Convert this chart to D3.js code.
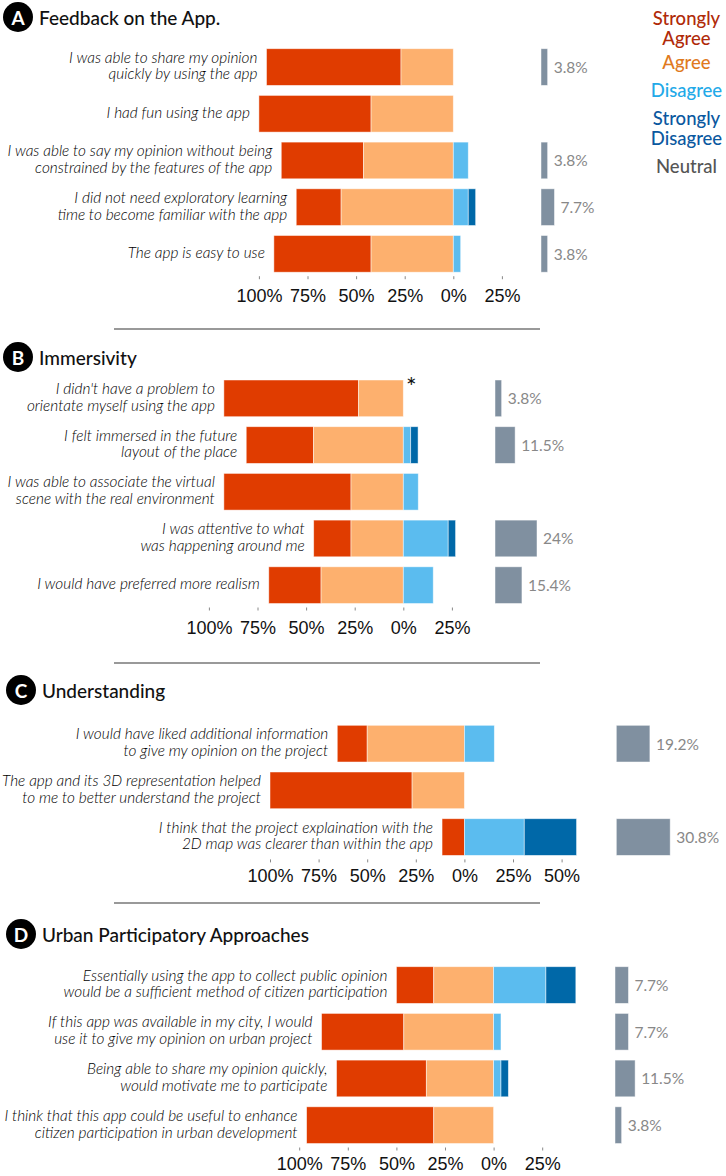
<!DOCTYPE html>
<html lang="en">
<head>
<meta charset="UTF-8">
<title>Likert survey results</title>
<style>
  body { margin: 0; background: #fff; }
  svg { display: block; font-family: "Lato", "Open Sans", sans-serif; }
  .q { font-style: italic; font-weight: 300; font-size: 15.4px; fill: #000; }
  .title { font-size: 19px; font-weight: 500; fill: #111; }
  .tick text { font-size: 18px; fill: #111; }
  .tick line { stroke: #888; }
  .nlab { font-size: 15.5px; fill: #888; }
  .legend { font-size: 18.5px; font-weight: 500; text-anchor: middle; }
</style>
</head>
<body>
<div id="chart"></div>
<script src="https://d3js.org/d3.v7.min.js"></script>
<script>
// levels and colours
const levels = ["Strongly Agree", "Agree", "Disagree", "Strongly Disagree", "Neutral"];
const barColors = ["#e03c00", "#fdb06e", "#5bbcef", "#0068a8", "#8090a0"];
const legendColors = ["#b02a08", "#e07a1e", "#22a9e8", "#0a58a0", "#555555"];

// A. Feedback on the App.
const questionsA = [
  "I was able to share my opinion\nquickly by using the app",
  "I had fun using the app",
  "I was able to say my opinion without being\nconstrained by the features of the app",
  "I did not need exploratory learning\ntime to become familiar with the app",
  "The app is easy to use"
];
const strongAgreeA = [69.2, 57.7, 42.3, 23.1, 50.0];
const agreeA       = [26.9, 42.3, 46.2, 57.7, 42.3];
const disagreeA    = [0, 0, 7.7, 7.7, 3.8];
const strongDisA   = [0, 0, 0, 3.8, 0];
const neutralA     = [3.8, 0, 3.8, 7.7, 3.8];

// B. Immersivity
const questionsB = [
  "I didn't have a problem to\norientate myself using the app",
  "I felt immersed in the future\nlayout of the place",
  "I was able to associate the virtual\nscene with the real environment",
  "I was attentive to what\nwas happening around me",
  "I would have preferred more realism"
];
const strongAgreeB = [69.2, 34.6, 65.4, 19.2, 26.9];
const agreeB       = [23.1, 46.2, 26.9, 26.9, 42.3];
const disagreeB    = [0, 3.8, 7.7, 23.1, 15.4];
const strongDisB   = [0, 3.8, 0, 3.8, 0];
const neutralB     = [3.8, 11.5, 0, 24, 15.4];

// C. Understanding
const questionsC = [
  "I would have liked additional information\nto give my opinion on the project",
  "The app and its 3D representation helped\nto me to better understand the project",
  "I think that the project explaination with the\n2D map was clearer than within the app"
];
const strongAgreeC = [15.4, 73.1, 11.5];
const agreeC       = [50.0, 26.9, 0];
const disagreeC    = [15.4, 0, 30.8];
const strongDisC   = [0, 0, 26.9];
const neutralC     = [19.2, 0, 30.8];

// D. Urban Participatory Approaches
const questionsD = [
  "Essentially using the app to collect public opinion\nwould be a sufficient method of citizen participation",
  "If this app was available in my city, I would\nuse it to give my opinion on urban project",
  "Being able to share my opinion quickly,\nwould motivate me to participate",
  "I think that this app could be useful to enhance\ncitizen participation in urban development"
];
const strongAgreeD = [19.2, 42.3, 46.2, 65.4];
const agreeD       = [30.8, 46.2, 34.6, 30.8];
const disagreeD    = [26.9, 3.8, 3.8, 0];
const strongDisD   = [15.4, 0, 3.8, 0];
const neutralD     = [7.7, 7.7, 11.5, 3.8];

const ticksShort = [-100, -75, -50, -25, 0, 25];
const ticksLong  = [-100, -75, -50, -25, 0, 25, 50];

const W = 726, H = 1176;
const step = 46.7, pad = 0.214;
const pxPerPct = 1.944, neutralPxPerPct = 1.75;

const panels = [
  { letter: "A", title: "Feedback on the App.", q: questionsA,
    vals: [strongAgreeA, agreeA, disagreeA, strongDisA, neutralA],
    ticks: ticksShort, zero: 453.3, neutralX: 541, titleY: 17, circleX: 18, barTop: 48.7, tickPad: 10 },
  { letter: "B", title: "Immersivity", q: questionsB,
    vals: [strongAgreeB, agreeB, disagreeB, strongDisB, neutralB],
    ticks: ticksShort, zero: 403.3, neutralX: 495, titleY: 357, circleX: 18, barTop: 380, star: 0, tickPad: 11 },
  { letter: "C", title: "Understanding", q: questionsC,
    vals: [strongAgreeC, agreeC, disagreeC, strongDisC, neutralC],
    ticks: ticksLong, zero: 464.4, neutralX: 616.3, titleY: 690, circleX: 21, barTop: 725.3, tickPad: 7 },
  { letter: "D", title: "Urban Participatory Approaches", q: questionsD,
    vals: [strongAgreeD, agreeD, disagreeD, strongDisD, neutralD],
    ticks: ticksShort, zero: 493.6, neutralX: 615, titleY: 934, circleX: 21, barTop: 966.7, tickPad: 7 }
];
const separators = [329, 663, 903];

const svg = d3.select("#chart").append("svg")
  .attr("width", W).attr("height", H);

panels.forEach(p => {
  const g = svg.append("g");
  const n = p.q.length;
  const maxTick = d3.max(p.ticks);

  const x = d3.scaleLinear()
    .domain([-100, maxTick])
    .range([p.zero - 100 * pxPerPct, p.zero + maxTick * pxPerPct]);
  const xn = d3.scaleLinear()
    .domain([0, 100])
    .range([p.neutralX, p.neutralX + 100 * neutralPxPerPct]);
  const r0 = p.barTop - step * pad / 2;
  const y = d3.scaleBand()
    .domain(d3.range(n))
    .range([r0, r0 + n * step])
    .paddingInner(pad).paddingOuter(pad / 2);

  // title
  g.append("circle").attr("cx", p.circleX).attr("cy", p.titleY).attr("r", 15).attr("fill", "#000");
  g.append("text").attr("x", p.circleX).attr("y", p.titleY)
    .attr("text-anchor", "middle").attr("dominant-baseline", "central")
    .attr("fill", "#fff").attr("font-size", 19).attr("font-weight", 700)
    .text(p.letter);
  g.append("text").attr("class", "title")
    .attr("x", p.circleX + 21).attr("y", p.titleY)
    .attr("dominant-baseline", "central")
    .text(p.title);

  // segments
  const rows = d3.range(n).map(i => {
    const [sa, a, d, sd, ne] = p.vals.map(v => v[i]);
    return { i, sa, a, d, sd, ne,
      segs: [
        { k: 0, x0: -(sa + a), x1: -a },
        { k: 1, x0: -a, x1: 0 },
        { k: 2, x0: 0, x1: d },
        { k: 3, x0: d, x1: d + sd }
      ].filter(s => s.x1 > s.x0) };
  });

  const rowG = g.selectAll(".row").data(rows).join("g").attr("class", "row");

  rowG.selectAll("rect.seg").data(r => r.segs.map(s => ({ ...s, i: r.i })))
    .join("rect").attr("class", "seg")
    .attr("x", s => x(s.x0))
    .attr("width", s => x(s.x1) - x(s.x0))
    .attr("y", s => y(s.i))
    .attr("height", y.bandwidth())
    .attr("fill", s => barColors[s.k])
    .attr("stroke", "#fff").attr("stroke-width", 0.8).attr("stroke-opacity", 0.6);

  // question labels, anchored at the left end of the bar
  rowG.append("text").attr("class", "q")
    .attr("text-anchor", "end")
    .each(function (r) {
      const lines = p.q[r.i].split("\n");
      const cx = x(-(r.sa + r.a)) - 9;
      const cy = y(r.i) + y.bandwidth() / 2 - 2;
      const lh = 16.7;
      const t = d3.select(this);
      t.selectAll("tspan").data(lines).join("tspan")
        .attr("x", cx)
        .attr("y", (l, j) => cy + (j - (lines.length - 1) / 2) * lh)
        .attr("dominant-baseline", "central")
        .text(l => l);
      // shrink if it would run off the left edge
      const bb = this.getBBox();
      if (bb.x < 2) {
        const fs = 15.4 * (cx - 2) / (cx - bb.x);
        t.style("font-size", fs + "px");
      }
    });

  // neutral bars
  const nRows = rows.filter(r => r.ne > 0);
  g.selectAll("rect.neu").data(nRows).join("rect").attr("class", "neu")
    .attr("x", xn(0))
    .attr("width", r => xn(r.ne) - xn(0))
    .attr("y", r => y(r.i))
    .attr("height", y.bandwidth())
    .attr("fill", barColors[4])
    .attr("stroke", "#fff").attr("stroke-width", 0.8).attr("stroke-opacity", 0.6);
  g.selectAll("text.nlab").data(nRows).join("text").attr("class", "nlab")
    .attr("x", r => xn(r.ne) + 6)
    .attr("y", r => y(r.i) + y.bandwidth() / 2)
    .attr("dominant-baseline", "central")
    .text(r => r.ne + "%");

  // asterisk
  if (p.star !== undefined) {
    g.append("text").attr("x", x(0) + 8).attr("y", y(p.star) + 16)
      .attr("font-size", 25).attr("fill", "#111")
      .attr("text-anchor", "middle")
      .text("*");
  }

  // axis
  const axisY = y(n - 1) + y.bandwidth() + 4;
  const axis = d3.axisBottom(x).tickValues(p.ticks)
    .tickSize(3).tickPadding(p.tickPad)
    .tickFormat(v => Math.abs(v) + "%");
  const ag = g.append("g").attr("transform", `translate(0,${axisY})`).call(axis);
  ag.select(".domain").remove();
  ag.selectAll(".tick text").attr("font-family", null).attr("font-size", null);
});

// separators
svg.selectAll("line.sep").data(separators).join("line").attr("class", "sep")
  .attr("x1", 114).attr("x2", 540)
  .attr("y1", d => d).attr("y2", d => d)
  .attr("stroke", "#777").attr("stroke-width", 1.5);

// legend
const legendLines = [["Strongly", "Agree"], ["Agree"], ["Disagree"], ["Strongly", "Disagree"], ["Neutral"]];
const legendY = [18, 62.3, 90, 117.7, 165.7];
const lg = svg.append("g").attr("class", "legend");
levels.forEach((lv, i) => {
  const t = lg.append("text").attr("fill", legendColors[i]).attr("aria-label", lv);
  t.selectAll("tspan").data(legendLines[i]).join("tspan")
    .attr("x", 686.5)
    .attr("y", (l, j) => legendY[i] + j * 20)
    .attr("dominant-baseline", "central")
    .text(l => l);
});
</script>
</body>
</html>
